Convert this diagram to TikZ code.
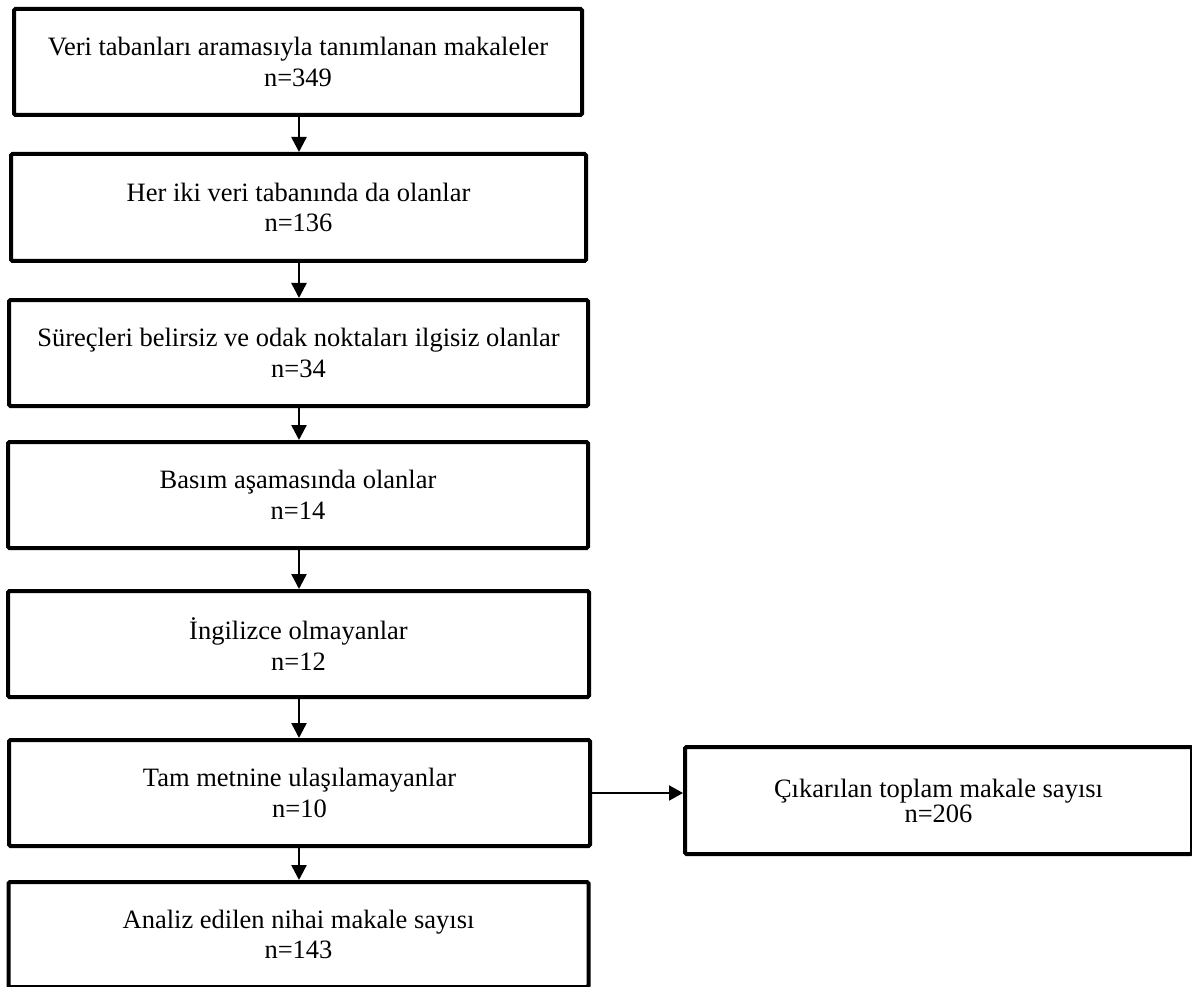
\documentclass[tikz,border=0pt]{standalone}
\usepackage{fontspec}
\setmainfont{Liberation Serif}
\usetikzlibrary{arrows.meta}
\begin{document}
\begin{tikzpicture}[x=1pt,y=-1pt,
  box/.style={draw=black,line width=4pt,rounded corners=1.5pt,inner sep=0pt,align=center,
    font=\fontsize{26.5}{30.5}\selectfont,text depth=0pt,anchor=center},
  rbox/.style={box,font=\fontsize{26.5}{25}\selectfont},
  arr/.style={line width=2.5pt,-{Triangle[length=15pt,width=15pt]}},
  harr/.style={line width=2pt,-{Triangle[length=14pt,width=15pt]}}]
\useasboundingbox (0,0) rectangle (1192,987);
\node[box,minimum width=568pt,minimum height=106pt] (b1) at (298,62) {Veri tabanları aramasıyla tanımlanan makaleler\\n=349};
\node[box,minimum width=575pt,minimum height=107pt] (b2) at (298.5,207.5) {Her iki veri tabanında da olanlar\\n=136};
\node[box,minimum width=579pt,minimum height=106pt] (b3) at (298.5,353) {Süreçleri belirsiz ve odak noktaları ilgisiz olanlar\\n=34};
\node[box,minimum width=580pt,minimum height=106pt] (b4) at (298,495) {Basım aşamasında olanlar\\n=14};
\node[box,minimum width=581pt,minimum height=106pt] (b5) at (298.5,644) {İngilizce olmayanlar\\n=12};
\node[box,minimum width=581pt,minimum height=106pt] (b6) at (299.5,793) {Tam metnine ulaşılamayanlar\\n=10};
\node[box,minimum width=580pt,minimum height=105pt] (b7) at (298.5,934.5) {Analiz edilen nihai makale sayısı\\n=143};
\node[rbox,minimum width=507pt,minimum height=107pt] (b8) at (938.5,800.5) {Çıkarılan toplam makale sayısı\\n=206};
\coordinate (ax) at (299,0);
\draw[arr] (b1.south -| ax) -- (b2.north -| ax);
\draw[arr] (b2.south -| ax) -- (b3.north -| ax);
\draw[arr] (b3.south -| ax) -- (b4.north -| ax);
\draw[arr] (b4.south -| ax) -- (b5.north -| ax);
\draw[arr] (b5.south -| ax) -- (b6.north -| ax);
\draw[arr] (b6.south -| ax) -- (b7.north -| ax);
\draw[harr] (b6.east) -- (b6.east -| b8.west);
\end{tikzpicture}
\end{document}
